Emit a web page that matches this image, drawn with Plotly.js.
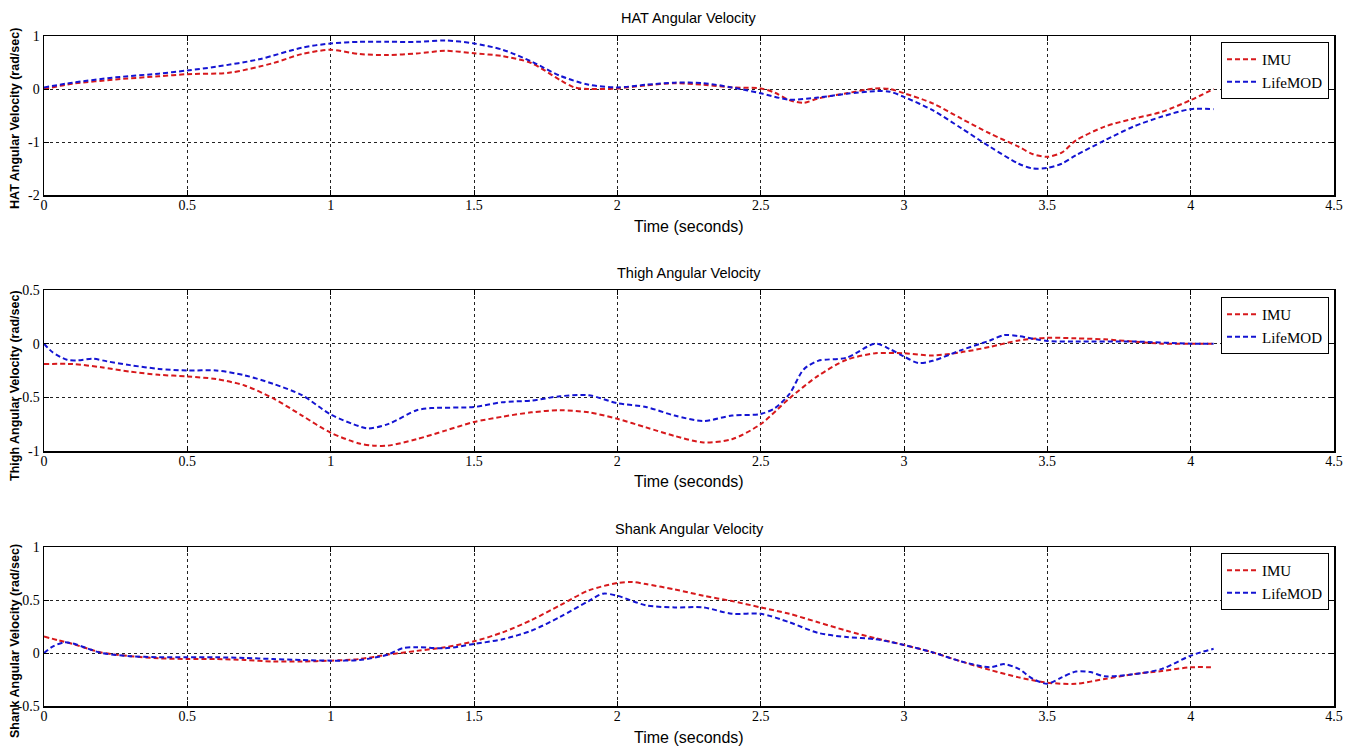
<!DOCTYPE html>
<html><head><meta charset="utf-8">
<script src="https://cdn.plot.ly/plotly-3.0.1.min.js"></script>
<style>html,body{margin:0;padding:0;background:#fff}#chart{width:1360px;height:749px}</style>
</head><body><div id="chart"></div>
<script>
// ---------- Data ----------
const seriesNames = ["IMU", "LifeMOD"];
const panelTitles = ["HAT Angular Velocity", "Thigh Angular Velocity", "Shank Angular Velocity"];
const yTitles = ["HAT Angular Velocity (rad/sec)", "Thigh Angular Velocity (rad/sec)", "Shank Angular Velocity (rad/sec)"];
const xTitle = "Time (seconds)";

const xTickVals = [0, 0.5, 1, 1.5, 2, 2.5, 3, 3.5, 4, 4.5];
const xTickText = ["0", "0.5", "1", "1.5", "2", "2.5", "3", "3.5", "4", "4.5"];
const hatTickVals = [-2, -1, 0, 1];
const hatTickText = ["-2", "-1", "0", "1"];
const thighTickVals = [-1, -0.5, 0, 0.5];
const thighTickText = ["-1", "-0.5", "0", "0.5"];
const shankTickVals = [-0.5, 0, 0.5, 1];
const shankTickText = ["-0.5", "0", "0.5", "1"];

const hatTimeIMU = [0,0.1,0.25,0.4,0.5,0.65,0.8,0.9,1.0,1.1,1.2,1.3,1.4,1.5,1.6,1.7,1.8,1.85,1.9,2.0,2.1,2.2,2.3,2.4,2.5,2.55,2.6,2.65,2.7,2.8,2.9,2.95,3.0,3.1,3.2,3.3,3.4,3.45,3.5,3.55,3.6,3.7,3.8,3.9,4.0,4.08];
const hatIMU = [0.0,0.1,0.18,0.24,0.28,0.31,0.49,0.66,0.74,0.66,0.64,0.67,0.72,0.675,0.62,0.49,0.17,0.03,0.0,0.01,0.07,0.11,0.08,0.03,0.01,-0.07,-0.21,-0.26,-0.18,-0.08,0.01,0.0,-0.08,-0.27,-0.56,-0.84,-1.09,-1.23,-1.28,-1.2,-0.97,-0.71,-0.56,-0.43,-0.21,0.0];
const hatTimeLife = [0,0.1,0.25,0.4,0.5,0.6,0.75,0.9,1.0,1.1,1.2,1.3,1.4,1.5,1.6,1.7,1.8,1.9,2.0,2.1,2.2,2.3,2.4,2.5,2.6,2.7,2.8,2.9,2.95,3.0,3.1,3.2,3.3,3.4,3.45,3.5,3.55,3.6,3.7,3.8,3.9,4.0,4.08];
const hatLife = [0.03,0.12,0.22,0.29,0.35,0.42,0.56,0.78,0.86,0.89,0.89,0.89,0.915,0.86,0.74,0.52,0.25,0.08,0.03,0.08,0.12,0.11,0.03,-0.08,-0.2,-0.16,-0.09,-0.04,-0.05,-0.15,-0.4,-0.74,-1.09,-1.41,-1.5,-1.49,-1.41,-1.25,-0.97,-0.71,-0.52,-0.38,-0.38];

const thighTimeIMU = [0,0.1,0.2,0.3,0.4,0.5,0.6,0.7,0.8,0.9,1.0,1.1,1.15,1.2,1.3,1.4,1.5,1.6,1.7,1.8,1.9,2.0,2.1,2.2,2.3,2.4,2.5,2.6,2.7,2.8,2.9,3.0,3.1,3.2,3.3,3.4,3.5,3.6,3.7,3.8,3.9,4.0,4.08];
const thighIMU = [-0.19,-0.19,-0.22,-0.26,-0.29,-0.305,-0.33,-0.39,-0.51,-0.67,-0.83,-0.93,-0.95,-0.95,-0.89,-0.81,-0.73,-0.68,-0.64,-0.62,-0.64,-0.70,-0.78,-0.86,-0.92,-0.89,-0.75,-0.51,-0.30,-0.15,-0.09,-0.09,-0.11,-0.08,-0.03,0.03,0.055,0.05,0.04,0.02,0.0,0.0,0.0];
const thighTimeLife = [0,0.03,0.08,0.12,0.17,0.22,0.3,0.4,0.5,0.6,0.7,0.8,0.9,1.0,1.1,1.13,1.2,1.3,1.35,1.5,1.6,1.7,1.8,1.9,2.0,2.1,2.2,2.3,2.4,2.5,2.55,2.6,2.65,2.7,2.8,2.9,2.95,3.0,3.05,3.1,3.2,3.3,3.35,3.4,3.5,3.6,3.8,4.0,4.08];
const thighLife = [0,-0.08,-0.15,-0.155,-0.14,-0.165,-0.2,-0.235,-0.25,-0.25,-0.295,-0.375,-0.48,-0.66,-0.77,-0.79,-0.75,-0.62,-0.60,-0.59,-0.545,-0.53,-0.49,-0.48,-0.555,-0.59,-0.67,-0.72,-0.67,-0.655,-0.6,-0.47,-0.24,-0.16,-0.13,0.0,-0.05,-0.12,-0.18,-0.16,-0.06,0.03,0.08,0.07,0.025,0.02,0.02,0.0,0.0];

const shankTimeIMU = [0,0.05,0.1,0.2,0.3,0.4,0.5,0.6,0.7,0.8,0.9,1.0,1.1,1.2,1.3,1.4,1.5,1.6,1.7,1.8,1.9,2.0,2.05,2.1,2.2,2.3,2.4,2.5,2.6,2.7,2.8,2.9,3.0,3.1,3.2,3.3,3.4,3.5,3.6,3.7,3.8,3.9,4.0,4.08];
const shankIMU = [0.155,0.12,0.085,0.005,-0.03,-0.05,-0.057,-0.057,-0.066,-0.08,-0.08,-0.072,-0.057,-0.015,0.02,0.055,0.11,0.195,0.31,0.45,0.59,0.66,0.67,0.65,0.6,0.54,0.49,0.43,0.37,0.29,0.21,0.14,0.076,0.006,-0.08,-0.16,-0.23,-0.28,-0.29,-0.245,-0.2,-0.17,-0.135,-0.135];
const shankTimeLife = [0,0.03,0.07,0.1,0.15,0.2,0.3,0.4,0.5,0.6,0.7,0.8,0.9,1.0,1.1,1.2,1.25,1.3,1.4,1.5,1.6,1.7,1.8,1.9,1.95,2.0,2.1,2.2,2.3,2.4,2.5,2.6,2.7,2.8,2.9,3.0,3.1,3.2,3.3,3.35,3.4,3.45,3.5,3.55,3.6,3.65,3.7,3.8,3.9,4.0,4.08];
const shankLife = [0,0.06,0.1,0.09,0.045,0,-0.03,-0.04,-0.04,-0.04,-0.047,-0.057,-0.066,-0.072,-0.066,-0.015,0.045,0.055,0.045,0.085,0.13,0.21,0.34,0.49,0.56,0.54,0.45,0.43,0.43,0.37,0.37,0.29,0.19,0.15,0.13,0.076,0.006,-0.08,-0.135,-0.105,-0.15,-0.245,-0.29,-0.23,-0.175,-0.18,-0.22,-0.2,-0.15,-0.025,0.04];

// ---------- Styles ----------
const RED = "rgb(215,25,28)";
const BLUE = "rgb(20,20,210)";
const serif = "Liberation Serif, Times New Roman, serif";
const sans = "Liberation Sans, Arial, sans-serif";

function tr(x, y, name, color, xa, ya, leg) {
  return {x: x, y: y, name: name, type: "scatter", mode: "lines",
    xaxis: xa, yaxis: ya, legend: leg,
    line: {color: color, width: 2, dash: "5px,3px", shape: "spline", smoothing: 0.8}};
}

const data = [
  tr(hatTimeIMU, hatIMU, seriesNames[0], RED, "x", "y", "legend"),
  tr(hatTimeLife, hatLife, seriesNames[1], BLUE, "x", "y", "legend"),
  tr(thighTimeIMU, thighIMU, seriesNames[0], RED, "x2", "y2", "legend2"),
  tr(thighTimeLife, thighLife, seriesNames[1], BLUE, "x2", "y2", "legend2"),
  tr(shankTimeIMU, shankIMU, seriesNames[0], RED, "x3", "y3", "legend3"),
  tr(shankTimeLife, shankLife, seriesNames[1], BLUE, "x3", "y3", "legend3")
];

const H = 749, mT = 36, mB = 43, plotH = H - mT - mB;
const py = p => (H - mB - p) / plotH;   // pixel y -> paper y
const mL = 44, plotW = 1360 - 44 - 26;
const px = p => (p - mL) / plotW;

function xax(anchor) {
  return {anchor: anchor, domain: [0, 1], range: [0, 4.5], tickvals: xTickVals, ticktext: xTickText,
    showgrid: true, gridcolor: "#222", griddash: "dot", gridwidth: 1,
    showline: true, mirror: "ticks", linecolor: "#000", linewidth: 1.5,
    ticks: "inside", ticklen: 5, tickcolor: "#000", zeroline: false, ticklabelstandoff: -3,
    tickfont: {family: serif, size: 14, color: "#000"}};
}
function yax(anchor, dom, rng, tv, tt) {
  return {anchor: anchor, domain: dom, range: rng, tickvals: tv, ticktext: tt,
    showgrid: true, gridcolor: "#222", griddash: "dot", gridwidth: 1,
    showline: true, mirror: "ticks", linecolor: "#000", linewidth: 1.5,
    ticks: "inside", ticklen: 5, tickcolor: "#000", zeroline: false,
    tickfont: {family: serif, size: 14, color: "#000"}};
}

const legStyle = (ytop) => ({x: px(1329), y: py(ytop), xanchor: "right", yanchor: "top",
  bgcolor: "#fff", bordercolor: "#000", borderwidth: 1,
  font: {family: serif, size: 15, color: "#000"}, tracegroupgap: 0, itemwidth: 30});

const annotations = [];
const titleY = [18, 273, 529], timeY = [226, 481, 737], ytY = [119, 386, 641];
for (let i = 0; i < 3; i++) {
  annotations.push({text: panelTitles[i], xref: "paper", yref: "paper", x: 0.5, y: py(titleY[i]),
    xanchor: "center", yanchor: "middle", showarrow: false, font: {family: sans, size: 14.5, color: "#000"}});
  annotations.push({text: xTitle, xref: "paper", yref: "paper", x: 0.5, y: py(timeY[i]),
    xanchor: "center", yanchor: "middle", showarrow: false, font: {family: sans, size: 16, color: "#000"}});
  annotations.push({text: "<b>" + yTitles[i] + "</b>", xref: "paper", yref: "paper", x: px(15), y: py(ytY[i]),
    xanchor: "center", yanchor: "middle", textangle: -90, showarrow: false, font: {family: sans, size: 12.5, color: "#000"}});
}

const layout = {
  width: 1360, height: 749,
  margin: {l: mL, r: 26, t: mT, b: mB, pad: 0},
  paper_bgcolor: "#fff", plot_bgcolor: "#fff",
  showlegend: true,
  xaxis: xax("y"), yaxis: yax("x", [py(195), py(36)], [-2, 1], hatTickVals, hatTickText),
  xaxis2: xax("y2"), yaxis2: yax("x2", [py(451), py(290)], [-1, 0.5], thighTickVals, thighTickText),
  xaxis3: xax("y3"), yaxis3: yax("x3", [py(706), py(547)], [-0.5, 1], shankTickVals, shankTickText),
  legend: legStyle(42), legend2: legStyle(297), legend3: legStyle(553),
  annotations: annotations
};

Plotly.newPlot("chart", data, layout, {staticPlot: true, displayModeBar: false});
</script></body></html>
